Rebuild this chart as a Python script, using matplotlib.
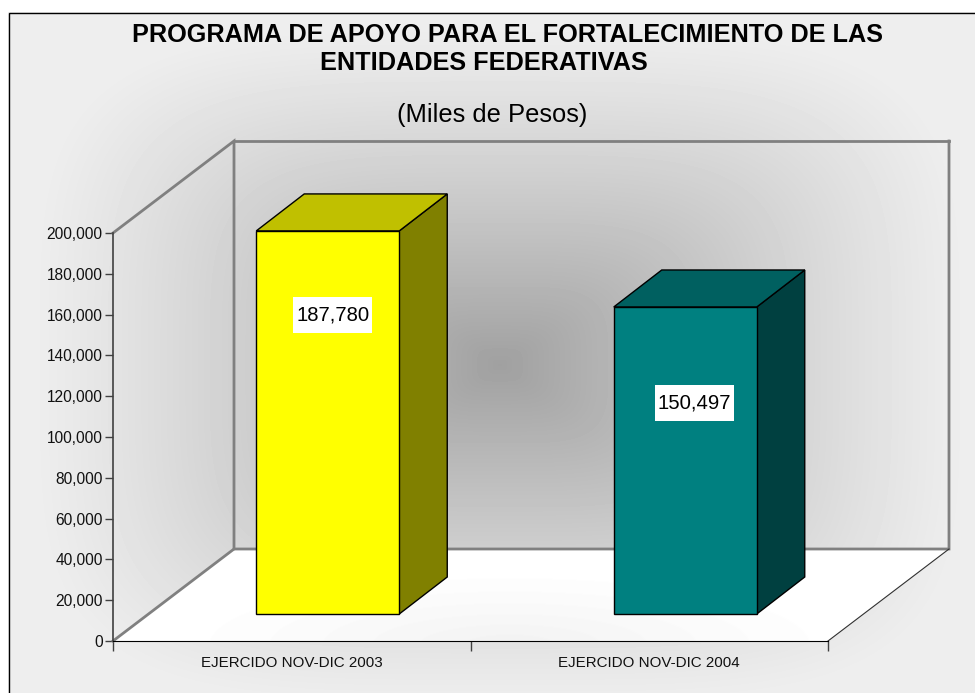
import numpy as np
import matplotlib
matplotlib.use("Agg")
import matplotlib.pyplot as plt
from matplotlib.patches import Polygon, Rectangle

categories = ["EJERCIDO NOV-DIC 2003", "EJERCIDO NOV-DIC 2004"]
values = [187780, 150497]
value_labels = ["187,780", "150,497"]
label_heights = [159800, 116700]
front_colors = ["#FFFF00", "#008080"]
top_colors = ["#C0C000", "#006060"]
side_colors = ["#808000", "#004040"]
y_ticks = list(range(0, 200001, 20000))
title_lines = ["PROGRAMA DE APOYO PARA EL FORTALECIMIENTO DE LAS", "ENTIDADES FEDERATIVAS"]
subtitle = "(Miles de Pesos)"

W, H = 975, 693
plt.rcParams["font.family"] = ["Liberation Sans", "DejaVu Sans"]
fig = plt.figure(figsize=(W / 100, H / 100), dpi=100, facecolor="white")

# pixel-space background layer: soft rounded path gradient
bg = fig.add_axes([0, 0, 1, 1], zorder=0)
bg.axis("off")
xx, yy = np.meshgrid(np.arange(W) + .5, np.arange(H) + .5)
px, py = np.abs(xx - 500) / 470, np.abs(yy - 365) / 340
d = np.clip((px ** 4 + py ** 4) ** (1 / 4), 0, 1)
grad = 238 - 78 * (1 - d) ** 1.15
bg_img = bg.imshow(grad, cmap="gray", vmin=0, vmax=255, extent=(0, W, H, 0), aspect="auto", interpolation="bilinear")
bg.set_xlim(0, W); bg.set_ylim(H, 0)
bg_img.set_clip_path(Rectangle((8, 12), W, H, transform=bg.transData))
bg.plot([8.5, 8.5, W + 5], [H + 5, 12.5, 12.5], color="black", lw=1.0, solid_joinstyle="miter")
bg.set_xlim(0, W); bg.set_ylim(H, 0)

# chart axes: front plane of the 3D box
L, R, B, T = 113, 828, 641, 233
ax = fig.add_axes([L / W, 1 - B / H, (R - L) / W, (B - T) / H], zorder=1)
ax.patch.set_alpha(0)
for s in ["top", "right"]:
    ax.spines[s].set_visible(False)
ax.spines["left"].set_color("#404040"); ax.spines["left"].set_linewidth(1.2)
ax.spines["bottom"].set_color("black")
ax.spines["left"].set_zorder(6); ax.spines["bottom"].set_zorder(6)

ux = (R - L) / len(categories)      # px per category
uy = (B - T) / 200000               # px per value
DX, DY = 121 / ux, 92 / uy          # full depth in data units

# floor
floor = Polygon([(0, 0), (DX, DY), (2 + DX, DY), (2, 0)], fc="white", ec="none", zorder=1, clip_on=False)
ax.add_patch(floor)
fd = np.clip(np.sqrt(((xx - 510) / 340) ** 2 + ((yy - 645) / 75) ** 2), 0, 1)
fl = ax.imshow(255 - 13 * (1 - fd) ** 1.2, cmap="gray", vmin=0, vmax=255, aspect="auto", zorder=1.1,
               extent=(-L / ux, (W - L) / ux, (B - H) / uy, B / uy), origin="upper")
fl.set_clip_box(fig.bbox)
fl.set_clip_path(floor)
ax.set_xlim(0, len(categories)); ax.set_ylim(0, 200000)

# walls
gray = "#808080"
ax.plot([0, DX, DX, 2 + DX, 2 + DX], [200000, 200000 + DY, DY, DY, 200000 + DY], color=gray, lw=2, zorder=2,
        clip_on=False, solid_joinstyle="miter")
ax.plot([DX, 2 + DX], [200000 + DY] * 2, color=gray, lw=2, zorder=2, clip_on=False)
ax.plot([0, DX], [0, DY], color=gray, lw=2, zorder=2, clip_on=False)
ax.plot([2, 2 + DX], [0, DY], color="#303030", lw=0.8, zorder=2, clip_on=False)

# bars
bw = 0.4
off_x, off_y = 36 / ux, 27 / uy
dep_x, dep_y = 48 / ux, 37 / uy
label_shift = [5 / ux, 9 / ux]
box_w, box_h = 79 / ux, 36 / uy
for i, v in enumerate(values):
    x0 = i + 0.5 - bw / 2 + off_x
    x1 = x0 + bw
    y0, y1 = off_y, off_y + v
    ek = dict(ec="black", lw=1.0, zorder=4, clip_on=False, joinstyle="miter")
    ax.add_patch(Polygon([(x1, y0), (x1 + dep_x, y0 + dep_y), (x1 + dep_x, y1 + dep_y), (x1, y1)], fc=side_colors[i], **ek))
    ax.add_patch(Polygon([(x0, y1), (x0 + dep_x, y1 + dep_y), (x1 + dep_x, y1 + dep_y), (x1, y1)], fc=top_colors[i], **ek))
    ax.add_patch(Polygon([(x0, y0), (x1, y0), (x1, y1), (x0, y1)], fc=front_colors[i], **ek))
    cx = (x0 + x1) / 2 + label_shift[i]
    ax.add_patch(Rectangle((cx - box_w / 2, label_heights[i] - box_h / 2), box_w, box_h, fc="white", ec="none", zorder=4.5, clip_on=False))
    ax.text(cx, label_heights[i], value_labels[i], ha="center", va="center", fontsize=14.6, color="black", zorder=5, clip_on=False)

# axes ticks
ax.set_yticks(y_ticks)
ax.set_yticklabels([f"{t:,}" for t in y_ticks], fontsize=11.2, color="#111111")
ax.tick_params(axis="y", length=6, width=1, color="#404040", pad=1.5)
ax.set_xticks(range(len(categories) + 1))
ax.set_xticklabels([""] * (len(categories) + 1))
ax.tick_params(axis="x", length=7, width=1, color="#404040")
for i, c in enumerate(categories):
    ax.annotate(c, (i + 0.5, 0), xytext=(0, -11), textcoords="offset points",
                ha="center", va="top", fontsize=10.9, color="#111111", annotation_clip=False)

fig.text(507.5 / W, 1 - 34.5 / H, title_lines[0], ha="center", va="center", fontsize=18.2, fontweight="bold", color="black")
fig.text(483.5 / W, 1 - 63.5 / H, title_lines[1], ha="center", va="center", fontsize=18.2, fontweight="bold", color="black")
fig.text(492 / W, 1 - 115 / H, subtitle, ha="center", va="center", fontsize=18.4, color="black")

fig.savefig("out.png", dpi=100, facecolor="white")
